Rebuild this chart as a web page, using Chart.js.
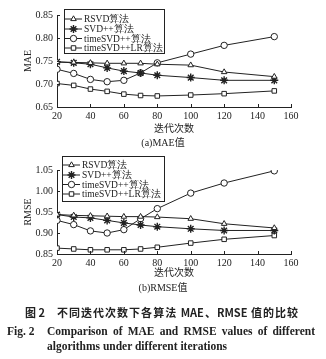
<!DOCTYPE html>
<html>
<head>
<meta charset="utf-8">
<script src="https://cdn.jsdelivr.net/npm/chart.js"></script>
<style>
  body { margin: 0; background: #fff; }
  #wrap { position: relative; width: 326px; height: 359px; overflow: hidden; background: #fff; }
  canvas { position: absolute; left: 0; }
  .t { position: absolute; white-space: nowrap; line-height: 1; color: #222; }
  .serif { font-family: "Liberation Serif", "DejaVu Serif", serif; }
  .cjk { font-family: "Noto Sans CJK SC", sans-serif; }
  .just { text-align: justify; text-align-last: justify; }
</style>
</head>
<body>
<div id="wrap">
  <canvas id="mae" style="top:0px" width="326" height="136"></canvas>
  <canvas id="rmse" style="top:150px" width="326" height="136"></canvas>

  <div class="t serif" style="left:0;width:326px;text-align:center;top:137px;font-size:10px">(a)MAE<span class="cjk">值</span></div>
  <div class="t serif" style="left:0;width:326px;text-align:center;top:282px;font-size:10px">(b)RMSE<span class="cjk">值</span></div>

  <div class="t cjk" style="left:25px;top:307px;font-size:11px;font-weight:bold">图 2</div>
  <div class="t cjk just" style="left:57px;width:241px;top:307px;font-size:11px;font-weight:bold">不同迭代次数下各算法 MAE、RMSE 值的比较</div>
  <div class="t serif" style="left:7px;top:326px;font-size:11.5px;font-weight:bold">Fig. 2</div>
  <div class="t serif just" style="left:47px;width:268px;top:326px;font-size:11.5px;font-weight:bold">Comparison of MAE and RMSE values of different</div>
  <div class="t serif" style="left:47px;top:341px;font-size:11.5px;font-weight:bold">algorithms under different iterations</div>
</div>
<script>
const iterations = [20, 30, 40, 50, 60, 70, 80, 100, 120, 150];
const seriesNames = ['RSVD算法', 'SVD++算法', 'timeSVD++算法', 'timeSVD++LR算法'];
const markers = ['triangle', 'star', 'circle', 'rect'];

// MAE
const maeRSVD   = [0.748, 0.747, 0.746, 0.745, 0.745, 0.745, 0.743, 0.741, 0.726, 0.716];
const maeSVDpp  = [0.748, 0.746, 0.743, 0.735, 0.728, 0.724, 0.719, 0.714, 0.708, 0.708];
const maeTime   = [0.732, 0.723, 0.710, 0.705, 0.708, 0.724, 0.746, 0.765, 0.784, 0.803];
const maeTimeLR = [0.701, 0.697, 0.689, 0.684, 0.678, 0.675, 0.674, 0.676, 0.679, 0.685];

// RMSE
const rmseRSVD   = [0.944, 0.942, 0.941, 0.940, 0.939, 0.939, 0.938, 0.934, 0.922, 0.912];
const rmseSVDpp  = [0.944, 0.938, 0.936, 0.930, 0.924, 0.919, 0.915, 0.910, 0.906, 0.906];
const rmseTime   = [0.930, 0.920, 0.905, 0.900, 0.908, 0.934, 0.958, 0.995, 1.019, 1.048];
const rmseTimeLR = [0.864, 0.862, 0.860, 0.860, 0.860, 0.862, 0.866, 0.876, 0.885, 0.894];

const ink = '#222';
const serif = '"Liberation Serif", "DejaVu Serif", serif';

function makeSets(list) {
  return list.map((vals, i) => ({
    label: seriesNames[i],
    data: vals.map((v, j) => ({ x: iterations[j], y: v })),
    borderColor: ink,
    borderWidth: 1,
    pointStyle: markers[i],
    pointRadius: markers[i] === 'star' ? 4 : 3.2,
    pointBorderWidth: markers[i] === 'star' ? 1.4 : 1,
    pointBackgroundColor: '#fff',
    pointBorderColor: ink,
    tension: 0
  }));
}

// small inward tick marks + boxed legend with line-through markers
const decor = {
  id: 'decor',
  afterDraw(chart, args, o) {
    const ctx = chart.ctx, xs = chart.scales.x, ys = chart.scales.y, a = chart.chartArea;
    ctx.save();
    ctx.strokeStyle = ink;
    ctx.lineWidth = 1;
    ctx.beginPath();
    xs.ticks.forEach(t => {
      const px = Math.round(xs.getPixelForValue(t.value)) + 0.5;
      ctx.moveTo(px, a.bottom); ctx.lineTo(px, a.bottom - 3);
    });
    ys.ticks.forEach(t => {
      const py = Math.round(ys.getPixelForValue(t.value)) + 0.5;
      ctx.moveTo(a.left, py); ctx.lineTo(a.left + 3, py);
    });
    ctx.stroke();

    // legend
    ctx.fillStyle = '#fff';
    ctx.fillRect(o.x, o.y, o.w, o.h);
    ctx.strokeRect(o.x + 0.5, o.y + 0.5, o.w, o.h);
    ctx.font = '9.5px ' + serif;
    ctx.textBaseline = 'middle';
    chart.data.datasets.forEach((ds, i) => {
      const y = o.rows[i];
      ctx.strokeStyle = ink;
      ctx.lineWidth = 1;
      ctx.beginPath();
      ctx.moveTo(o.x + 1, y); ctx.lineTo(o.x + 18, y);
      ctx.stroke();
      ctx.fillStyle = '#fff';
      ctx.lineWidth = ds.pointBorderWidth;
      Chart.helpers.drawPoint(ctx, { pointStyle: ds.pointStyle, radius: ds.pointRadius, borderWidth: ds.pointBorderWidth, rotation: 0 }, o.x + 9.5, y);
      ctx.fillStyle = ink;
      ctx.fillText(ds.label, o.x + 20, y + 0.5);
    });
    ctx.restore();
  }
};

function makeChart(id, sets, yMin, yMax, yTitle, top, bottom, xHeight, legend) {
  return new Chart(document.getElementById(id), {
    type: 'line',
    data: { datasets: makeSets(sets) },
    plugins: [decor],
    options: {
      responsive: false,
      animation: false,
      layout: { padding: { left: 22, right: 35, top: top, bottom: bottom } },
      plugins: { legend: { display: false }, tooltip: { enabled: false }, decor: legend },
      scales: {
        x: {
          type: 'linear', min: 20, max: 160,
          ticks: { stepSize: 20, color: ink, font: { family: serif, size: 10 }, padding: 3, maxRotation: 0 },
          grid: { display: false, drawTicks: false },
          border: { display: true, color: ink, width: 1 },
          title: { display: true, text: '迭代次数', color: ink, font: { family: '"Noto Sans CJK SC", sans-serif', size: 10 }, padding: 0 },
          afterFit: s => { s.height = xHeight; }
        },
        y: {
          min: yMin, max: yMax,
          ticks: { stepSize: 0.05, color: ink, font: { family: serif, size: 10 }, padding: 4,
                   callback: v => v.toFixed(2) },
          grid: { display: false, drawTicks: false },
          border: { display: true, color: ink, width: 1 },
          title: { display: true, text: yTitle, color: ink, font: { family: serif, size: 10 }, padding: 0 },
          afterFit: s => { s.width = 35; }
        }
      }
    }
  });
}

makeChart('mae', [maeRSVD, maeSVDpp, maeTime, maeTimeLR], 0.65, 0.85, 'MAE', 15, 2, 27,
  { x: 64, y: 9, w: 100, h: 44, rows: [19, 29, 38.5, 48] });
makeChart('rmse', [rmseRSVD, rmseSVDpp, rmseTime, rmseTimeLR], 0.85, 1.05, 'RMSE', 20, 8, 24,
  { x: 62, y: 6, w: 102, h: 45, rows: [15, 25, 34.5, 44] });
</script>
</body>
</html>
